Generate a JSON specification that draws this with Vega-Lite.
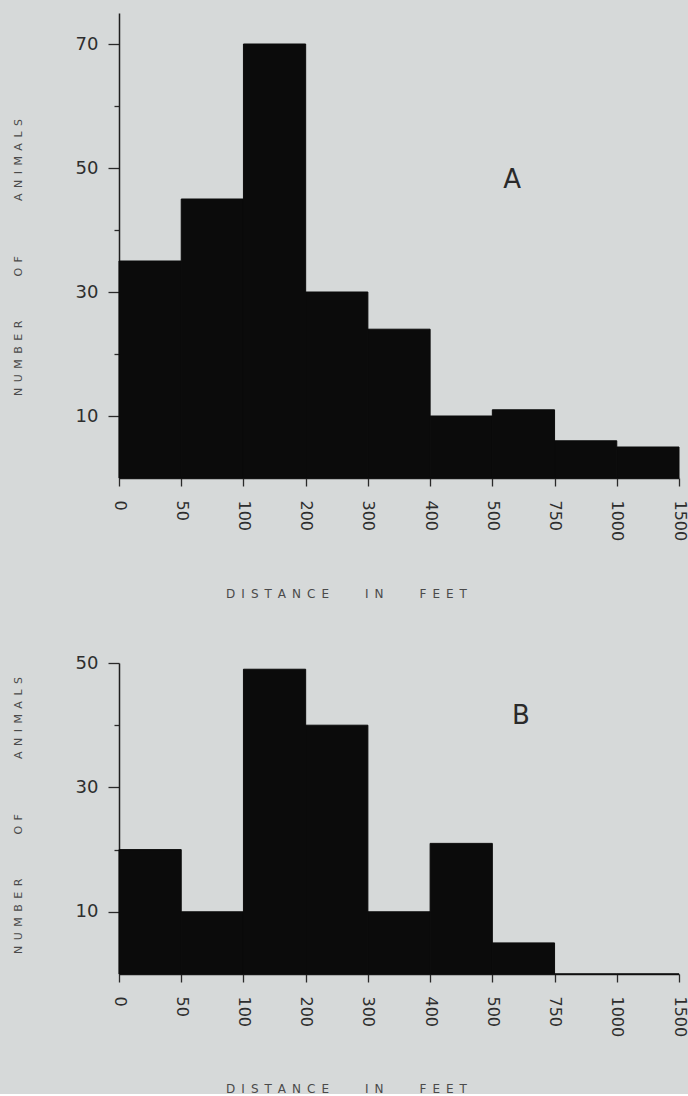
{
  "$schema": "https://vega.github.io/schema/vega-lite/v6.json",
  "background": "#d6d9d9",
  "padding": {"left": 12, "top": 13, "right": 5, "bottom": 0},
  "config": {
    "view": {"stroke": null},
    "font": "DejaVu Sans",
    "axis": {
      "grid": false,
      "domainColor": "#1e1e1e",
      "domainWidth": 1.5,
      "tickColor": "#2a2a2a",
      "tickWidth": 1.3,
      "labelColor": "#2e2e2e",
      "labelFont": "DejaVu Sans",
      "titleFont": "DejaVu Sans",
      "titleFontWeight": "normal",
      "titleColor": "#4a4a4a",
      "labelOverlap": false,
      "labelFlush": false
    }
  },
  "datasets": {
    "a": [
      {"from": 0, "to": 50, "animals": 35},
      {"from": 50, "to": 100, "animals": 45},
      {"from": 100, "to": 200, "animals": 70},
      {"from": 200, "to": 300, "animals": 30},
      {"from": 300, "to": 400, "animals": 24},
      {"from": 400, "to": 500, "animals": 10},
      {"from": 500, "to": 750, "animals": 11},
      {"from": 750, "to": 1000, "animals": 6},
      {"from": 1000, "to": 1500, "animals": 5}
    ],
    "b": [
      {"from": 0, "to": 50, "animals": 20},
      {"from": 50, "to": 100, "animals": 10},
      {"from": 100, "to": 200, "animals": 49},
      {"from": 200, "to": 300, "animals": 40},
      {"from": 300, "to": 400, "animals": 10},
      {"from": 400, "to": 500, "animals": 21},
      {"from": 500, "to": 750, "animals": 5},
      {"from": 750, "to": 1000, "animals": 0},
      {"from": 1000, "to": 1500, "animals": 0}
    ]
  },
  "bounds": "flush",
  "spacing": 185,
  "vconcat": [
    {
      "width": 560,
      "height": 465,
      "layer": [
        {
          "data": {"name": "a"},
          "mark": {"type": "bar", "color": "#0b0b0b", "stroke": "#0b0b0b", "strokeWidth": 1},
          "encoding": {
            "x": {
              "field": "from", "type": "quantitative",
              "scale": {"domain": [0, 50, 100, 200, 300, 400, 500, 750, 1000, 1500], "range": [0, 62.22, 124.44, 186.67, 248.89, 311.11, 373.33, 435.56, 497.78, 560], "nice": false, "zero": false},
              "axis": {
                "values": [0, 50, 100, 200, 300, 400, 500, 750, 1000, 1500],
                "format": "d",
                "labelAngle": 90,
                "labelFontSize": 16,
                "tickSize": 8,
                "labelPadding": 14,
                "title": "D\u2002I\u2002S\u2002T\u2002A\u2002N\u2002C\u2002E\u2003\u2003\u2003I\u2002N\u2003\u2003\u2003F\u2002E\u2002E\u2002T",
                "titleFontSize": 12,
                "titleX": 227,
                "titleY": 115,
                "titleAlign": "center",
                "titleBaseline": "middle"
              }
            },
            "x2": {"field": "to"},
            "y": {
              "field": "animals", "type": "quantitative",
              "scale": {"domain": [0, 75], "nice": false},
              "axis": {
                "values": [10, 20, 30, 40, 50, 60, 70],
                "labelExpr": "datum.value % 20 === 10 ? datum.label : ''",
                "tickSize": {"condition": {"test": "datum.value % 20 === 0", "value": 5}, "value": 11},
                "labelPadding": 10,
                "labelFontSize": 18,
                "title": "N\u2002U\u2002M\u2002B\u2002E\u2002R\u2003\u2003\u2003\u2003O\u2002F\u2003\u2003\u2003\u2003\u2003A\u2002N\u2002I\u2002M\u2002A\u2002L\u2002S",
                "titleFontSize": 11,
                "titleAngle": 270,
                "titleX": -100.5,
                "titleY": 244,
                "titleAlign": "center",
                "titleBaseline": "middle"
              }
            },
            "y2": {"datum": 0}
          }
        },
        {
          "data": {"values": [{"px": 580, "py": 48, "panel": "A"}]},
          "mark": {"type": "text", "fontSize": 26, "color": "#2a2a2a", "font": "DejaVu Sans"},
          "encoding": {
            "x": {"field": "px", "type": "quantitative"},
            "y": {"field": "py", "type": "quantitative"},
            "text": {"field": "panel"}
          }
        }
      ]
    },
    {
      "width": 560,
      "height": 311,
      "layer": [
        {
          "data": {"name": "b"},
          "mark": {"type": "bar", "color": "#0b0b0b", "stroke": "#0b0b0b", "strokeWidth": 1},
          "encoding": {
            "x": {
              "field": "from", "type": "quantitative",
              "scale": {"domain": [0, 50, 100, 200, 300, 400, 500, 750, 1000, 1500], "range": [0, 62.22, 124.44, 186.67, 248.89, 311.11, 373.33, 435.56, 497.78, 560], "nice": false, "zero": false},
              "axis": {
                "values": [0, 50, 100, 200, 300, 400, 500, 750, 1000, 1500],
                "format": "d",
                "labelAngle": 90,
                "labelFontSize": 16,
                "tickSize": 8,
                "labelPadding": 14,
                "title": "D\u2002I\u2002S\u2002T\u2002A\u2002N\u2002C\u2002E\u2003\u2003\u2003I\u2002N\u2003\u2003\u2003F\u2002E\u2002E\u2002T",
                "titleFontSize": 12,
                "titleX": 227,
                "titleY": 114,
                "titleAlign": "center",
                "titleBaseline": "middle"
              }
            },
            "x2": {"field": "to"},
            "y": {
              "field": "animals", "type": "quantitative",
              "scale": {"domain": [0, 50], "nice": false},
              "axis": {
                "values": [10, 20, 30, 40, 50],
                "labelExpr": "datum.value % 20 === 10 ? datum.label : ''",
                "tickSize": {"condition": {"test": "datum.value % 20 === 0", "value": 5}, "value": 11},
                "labelPadding": 10,
                "labelFontSize": 18,
                "title": "N\u2002U\u2002M\u2002B\u2002E\u2002R\u2003\u2003\u2003\u2003O\u2002F\u2003\u2003\u2003\u2003\u2003A\u2002N\u2002I\u2002M\u2002A\u2002L\u2002S",
                "titleFontSize": 11,
                "titleAngle": 270,
                "titleX": -100.5,
                "titleY": 152,
                "titleAlign": "center",
                "titleBaseline": "middle"
              }
            },
            "y2": {"datum": 0}
          }
        },
        {
          "data": {"values": [{"px": 615, "py": 41.5, "panel": "B"}]},
          "mark": {"type": "text", "fontSize": 26, "color": "#2a2a2a", "font": "DejaVu Sans"},
          "encoding": {
            "x": {"field": "px", "type": "quantitative"},
            "y": {"field": "py", "type": "quantitative"},
            "text": {"field": "panel"}
          }
        }
      ]
    }
  ]
}
